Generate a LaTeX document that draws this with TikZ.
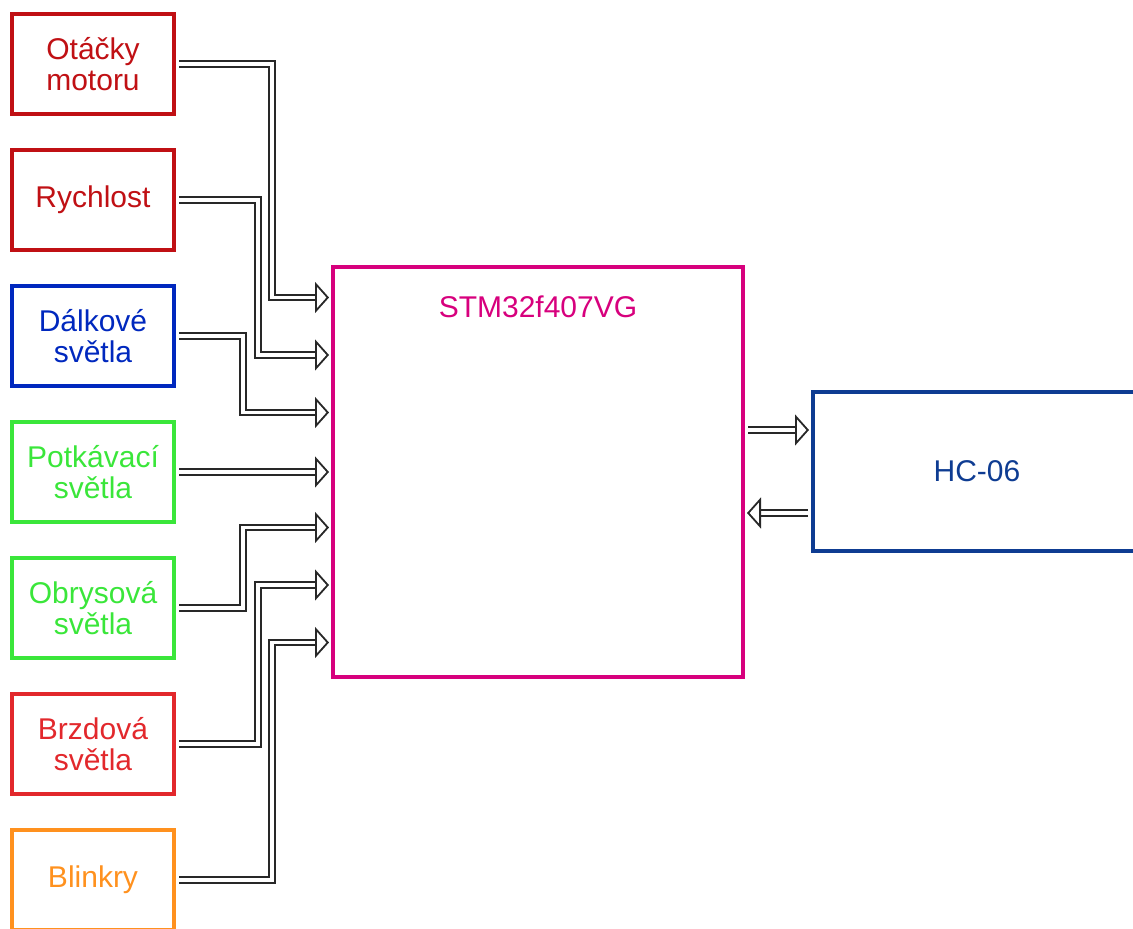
\documentclass[tikz,border=0pt]{standalone}
\usepackage{fontspec}
\setmainfont{Liberation Sans}
\usetikzlibrary{calc,positioning,arrows.meta}
\definecolor{sensorRed}{RGB}{192,16,20}
\definecolor{beamBlue}{RGB}{0,40,190}
\definecolor{lampGreen}{RGB}{58,230,58}
\definecolor{brakeRed}{RGB}{226,40,44}
\definecolor{blinkOrange}{RGB}{255,145,30}
\definecolor{mcuMagenta}{RGB}{215,0,125}
\definecolor{btNavy}{RGB}{14,60,146}
\definecolor{wireGray}{RGB}{40,40,40}
\tikzset{
  inbox/.style={draw=#1,text=#1,line width=4pt,minimum width=162pt,minimum height=100pt,align=center,inner sep=0pt},
  sig/.style={draw=wireGray,line width=1.8pt,double=white,double distance=3.5pt,shorten <=3pt,shorten >=2pt,
    -{Triangle[open,length=14pt,width=31pt,line width=1.8pt]}}
}

\begin{document}
\begin{tikzpicture}[x=1pt,y=-1pt,font=\fontsize{30}{31}\selectfont,node distance=32pt]
\useasboundingbox (0,0) rectangle (1133,929);
% inputs
\node[inbox=sensorRed] (otacky) at (93,64) {Otáčky\\motoru};
\node[inbox=sensorRed,below=of otacky] (rychlost) {Rychlost};
\node[inbox=beamBlue,below=of rychlost] (dalkove) {Dálkové\\světla};
\node[inbox=lampGreen,below=of dalkove] (potkavaci) {Potkávací\\světla};
\node[inbox=lampGreen,below=of potkavaci] (obrysove) {Obrysová\\světla};
\node[inbox=brakeRed,below=of obrysove] (brzdove) {Brzdová\\světla};
\node[inbox=blinkOrange,below=of brzdove] (blinkry) {Blinkry};
% MCU and bluetooth
\node[draw=mcuMagenta,line width=4pt,minimum width=410pt,minimum height=410pt,
  label={[text=mcuMagenta,anchor=north,yshift=-27pt]north:STM32f407VG}] (mcu) at (538,472) {};
\node[draw=btNavy,text=btNavy,line width=4pt,minimum width=328pt,minimum height=159pt] (hc) at (977,471.5) {HC-06};
% signals
\draw[sig] (otacky.east) -- ++(96,0) |- ($(mcu.west)+(0,-174.5)$);
\draw[sig] (rychlost.east) -- ++(82,0) |- ($(mcu.west)+(0,-117)$);
\draw[sig] (dalkove.east) -- ++(67,0) |- ($(mcu.west)+(0,-59.5)$);
\draw[sig] (potkavaci.east) -- (potkavaci.east -| mcu.west);
\draw[sig] (obrysove.east) -- ++(67,0) |- ($(mcu.west)+(0,55.5)$);
\draw[sig] (brzdove.east) -- ++(82,0) |- ($(mcu.west)+(0,113)$);
\draw[sig] (blinkry.east) -- ++(96,0) |- ($(mcu.west)+(0,170.5)$);
\draw[sig] ($(mcu.east)+(0,-42)$) -- ($(hc.west)+(0,-41.5)$);
\draw[sig] ($(hc.west)+(0,41.5)$) -- ($(mcu.east)+(0,41)$);
\end{tikzpicture}
\end{document}
